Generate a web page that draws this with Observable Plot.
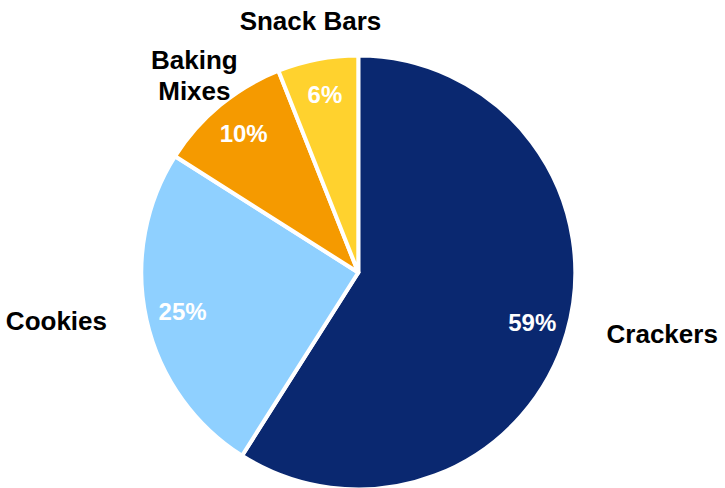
<!DOCTYPE html>
<html>
<head>
<meta charset="utf-8">
<script src="https://cdn.jsdelivr.net/npm/d3@7"></script>
<script src="https://cdn.jsdelivr.net/npm/@observablehq/plot@0.6"></script>
<style>
  html, body { margin: 0; padding: 0; background: #fff; }
  #chart { width: 725px; height: 488px; }
</style>
</head>
<body>
<div id="chart"></div>
<script>
const categories = ["Crackers", "Cookies", "Baking Mixes", "Snack Bars"];
const shares = [59, 25, 10, 6];
const labelTexts = ["Crackers", "Cookies", "Baking\nMixes", "Snack Bars"];
const colors = ["#0a2870", "#8fd0ff", "#f59a00", "#ffd22e"];

const rows = categories.map((c, i) => ({category: c, value: shares[i], label: labelTexts[i], color: colors[i]}));
const arcs = d3.pie().sort(null).value(d => d.value)(rows);

// unit-circle coordinates (y up), angle clockwise from 12 o'clock
const pctRadius = 0.84, labelRadius = 1.2;
const pts = arcs.map(a => {
  const m = (a.startAngle + a.endAngle) / 2;
  const sx = Math.sin(m), sy = Math.cos(m);
  const side = Math.abs(sx) > 0.8;
  return {
    ...a.data,
    pctText: a.data.value + "%",
    px: sx * pctRadius, py: sy * pctRadius,
    lx: sx * labelRadius, ly: side ? sy : sy * labelRadius,
    anchor: sx > 0.8 ? "start" : sx < -0.8 ? "end" : "middle"
  };
});

const pieMark = (index, scales) => {
  const cx = scales.x(0), cy = scales.y(0), r = scales.x(1) - scales.x(0);
  const g = d3.create("svg:g").attr("transform", `translate(${cx},${cy})`);
  const arc = d3.arc().innerRadius(0).outerRadius(r + 2);
  g.selectAll("path").data(arcs).join("path")
    .attr("d", arc)
    .attr("fill", d => d.data.color)
    .attr("stroke", "white")
    .attr("stroke-width", 4)
    .attr("stroke-linejoin", "round");
  return g.node();
};

const W = 725, H = 488, R = 215, CX = 358.3, CY = 272.5;
const labelStyle = {fill: "black", fontSize: 26, fontWeight: "bold", lineHeight: 1.2};
const chart = Plot.plot({
  width: W, height: H,
  margin: 0,
  x: {domain: [-CX / R, (W - CX) / R], axis: null},
  y: {domain: [-(H - CY) / R, CY / R], axis: null},
  style: {fontFamily: "'Liberation Sans', Arial, sans-serif", background: "white"},
  marks: [
    pieMark,
    Plot.text(pts, {x: "px", y: "py", text: "pctText", fill: "white", fontSize: 24, fontWeight: "bold"}),
    Plot.text(pts.filter(d => d.anchor === "start"), {x: "lx", y: "ly", text: "label", textAnchor: "start", ...labelStyle}),
    Plot.text(pts.filter(d => d.anchor === "end"), {x: "lx", y: "ly", text: "label", textAnchor: "end", ...labelStyle}),
    Plot.text(pts.filter(d => d.anchor === "middle"), {x: "lx", y: "ly", text: "label", textAnchor: "middle", ...labelStyle})
  ]
});
document.getElementById("chart").appendChild(chart);
</script>
</body>
</html>
